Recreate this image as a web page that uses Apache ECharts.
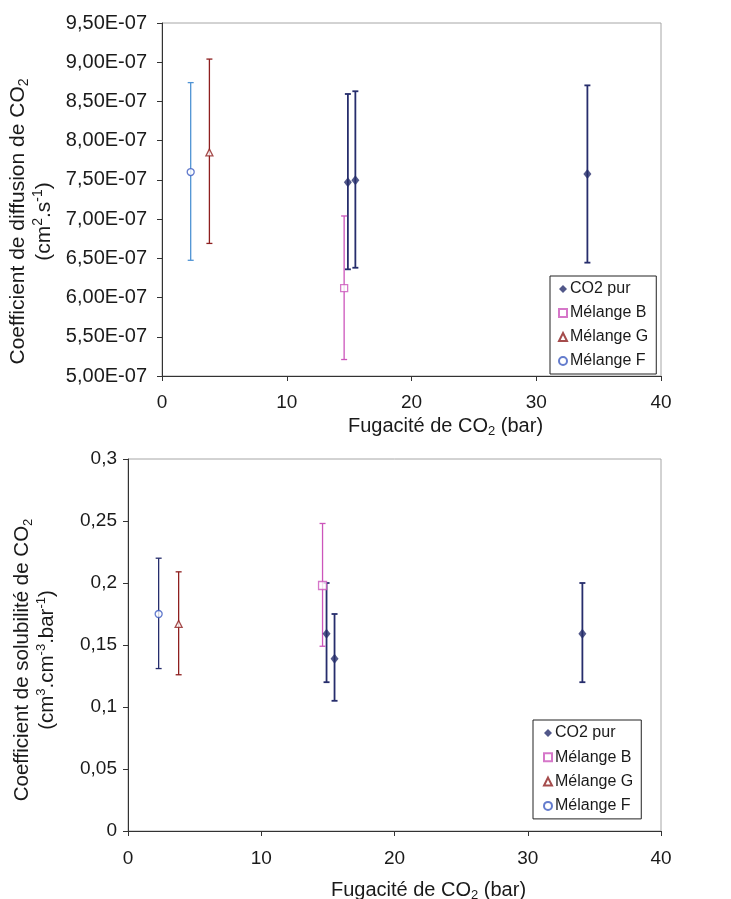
<!DOCTYPE html>
<html>
<head>
<meta charset="utf-8">
<script src="https://cdn.jsdelivr.net/npm/echarts@6/dist/echarts.min.js"></script>
<style>html,body{margin:0;padding:0;background:#fff}#c{width:731px;height:899px}</style>
</head>
<body>
<div id="c"></div>
<script>
// ---- data ----
const seriesNames = ['CO2 pur', 'Mélange B', 'Mélange G', 'Mélange F'];
// Fugacity (bar)
const xCO2 = [14.9, 15.5, 34.1];
const xB = [14.6];
const xG = [3.8];
const xF = [2.3];
// Diffusion coefficient (cm2/s)
const dCO2 = [7.47e-7, 7.495e-7, 7.575e-7];
const dCO2Lo = [6.36e-7, 6.38e-7, 6.445e-7];
const dCO2Hi = [8.595e-7, 8.63e-7, 8.705e-7];
const dB = [6.12e-7], dBLo = [5.21e-7], dBHi = [7.04e-7];
const dG = [7.85e-7], dGLo = [6.69e-7], dGHi = [9.04e-7];
const dF = [7.60e-7], dFLo = [6.475e-7], dFHi = [8.74e-7];
// Solubility coefficient
const sCO2 = [0.159, 0.139, 0.159];
const sCO2Lo = [0.12, 0.105, 0.12];
const sCO2Hi = [0.20, 0.175, 0.20];
const sB = [0.198], sBLo = [0.149], sBHi = [0.248];
const sG = [0.167], sGLo = [0.126], sGHi = [0.209];
const sF = [0.175], sFLo = [0.131], sFHi = [0.22];

// ---- styles ----
const FONT = 'Liberation Sans, Arial, sans-serif';
const NAVY = '#262D6C', MAG = '#CC55BB', RED = '#8E1F1F', BLUE = '#3D5BC0', LBLUE = '#4F93D4';

function makeRich(fs) {
  const s = Math.round(fs * 0.65);
  return {
    t: {fontSize: fs, fontFamily: FONT, color: '#1a1a1a', lineHeight: Math.round(fs * 1.22)},
    sub: {fontSize: s, fontFamily: FONT, color: '#1a1a1a', lineHeight: s + 4, verticalAlign: 'bottom'},
    sup: {fontSize: s, fontFamily: FONT, color: '#1a1a1a', lineHeight: s + 4, verticalAlign: 'top'}
  };
}

function pts(xs, ys) { return xs.map((x, i) => [x, ys[i]]); }
function bars(xs, lo, hi) { return xs.map((x, i) => [x, lo[i], hi[i]]); }

function errSeries(name, idx, data, color, lw) {
  return {
    name: name, type: 'custom', xAxisIndex: idx, yAxisIndex: idx, z: 1,
    encode: {x: 0, y: [1, 2]}, data: data, silent: true,
    renderItem: function (params, api) {
      const x = api.value(0), lo = api.value(1), hi = api.value(2);
      const p1 = api.coord([x, lo]), p2 = api.coord([x, hi]);
      const w = 3;
      const st = {stroke: color, lineWidth: lw};
      return {type: 'group', children: [
        {type: 'line', shape: {x1: p1[0], y1: p1[1], x2: p2[0], y2: p2[1]}, style: st},
        {type: 'line', shape: {x1: p1[0] - w, y1: p1[1], x2: p1[0] + w, y2: p1[1]}, style: st},
        {type: 'line', shape: {x1: p2[0] - w, y1: p2[1], x2: p2[0] + w, y2: p2[1]}, style: st}
      ]};
    }
  };
}

function markerSeries(idx, name, data, symbol, color, size) {
  const open = symbol !== 'diamond';
  return {
    name: name, type: 'scatter', xAxisIndex: idx, yAxisIndex: idx, z: 3,
    symbol: symbol, symbolSize: size, data: data,
    itemStyle: open ? {color: '#fff', borderColor: color, borderWidth: 1.3} : {color: color},
    emphasis: {disabled: true}
  };
}

function xAxisDef(idx, gap, margin) {
  return {
    gridIndex: idx, type: 'value', min: 0, max: 40, interval: 10,
    name: '{t|Fugacité de CO}{sub|2}{t| (bar)}', nameLocation: 'middle', nameGap: gap,
    nameTextStyle: {rich: makeRich(20), padding: [0, 0, 0, 68]},
    axisLine: {show: true, onZero: false, lineStyle: {color: '#333', width: 1}},
    axisTick: {show: true, length: 5, lineStyle: {color: '#333'}},
    axisLabel: {fontSize: 19, fontFamily: FONT, color: '#1a1a1a', margin: margin},
    splitLine: {show: false}
  };
}

const legendText = {fontSize: 16, fontFamily: FONT, color: '#1a1a1a', lineHeight: 20, padding: [0, 0, 0, -2]};

const option = {
  backgroundColor: '#fff',
  animation: false,
  grid: [
    {left: 162, top: 23, width: 499, height: 353, show: true, borderColor: '#a6a6a6', borderWidth: 1,
      containLabel: false, outerBoundsMode: 'none'},
    {left: 128, top: 459, width: 533, height: 372, show: true, borderColor: '#a6a6a6', borderWidth: 1,
      containLabel: false, outerBoundsMode: 'none'}
  ],
  xAxis: [xAxisDef(0, 38, 17), xAxisDef(1, 47, 18)],
  yAxis: [
    {
      gridIndex: 0, type: 'value', min: 5e-7, max: 9.5e-7, interval: 0.5e-7,
      name: '{t|Coefficient de diffusion de CO}{sub|2}\n{t|(cm}{sup|2}{t|.s}{sup|-1}{t|)}',
      nameLocation: 'middle', nameGap: 104,
      nameTextStyle: {rich: makeRich(21), align: 'center', padding: [0, 44, 0, 0]},
      axisLine: {show: true, lineStyle: {color: '#333', width: 1}},
      axisTick: {show: true, length: 5, lineStyle: {color: '#333'}},
      axisLabel: {fontSize: 20, fontFamily: FONT, color: '#1a1a1a', margin: 15,
        formatter: v => (Math.round(v * 1e9) / 100).toFixed(2).replace('.', ',') + 'E-07'},
      splitLine: {show: false}
    },
    {
      gridIndex: 1, type: 'value', min: 0, max: 0.3, interval: 0.05,
      name: '{t|Coefficient de solubilité de CO}{sub|2}\n{t|(cm}{sup|3}{t|.cm}{sup|-3}{t|.bar}{sup|-1}{t|)}',
      nameLocation: 'middle', nameGap: 68,
      nameTextStyle: {rich: makeRich(20.5), align: 'center', padding: [0, 30, 0, 0]},
      axisLine: {show: true, lineStyle: {color: '#333', width: 1}},
      axisTick: {show: true, length: 5, lineStyle: {color: '#333'}},
      axisLabel: {fontSize: 19, fontFamily: FONT, color: '#1a1a1a', margin: 11,
        formatter: v => String(Math.round(v * 100) / 100).replace('.', ',')},
      splitLine: {show: false}
    }
  ],
  legend: [
    {
      data: seriesNames, orient: 'vertical', left: 550, top: 276, width: 107,
      backgroundColor: '#fff', borderColor: '#222', borderWidth: 1,
      padding: [3, 8, 3, 8], itemGap: 4, itemWidth: 8, itemHeight: 8,
      textStyle: legendText, selectedMode: false
    },
    {
      data: seriesNames, orient: 'vertical', left: 533, top: 720, width: 114,
      backgroundColor: '#fff', borderColor: '#222', borderWidth: 1,
      padding: [3, 8, 3, 10], itemGap: 4.3, itemWidth: 8, itemHeight: 8,
      textStyle: legendText, selectedMode: false
    }
  ],
  series: [
    markerSeries(0, 'CO2 pur', pts(xCO2, dCO2), 'diamond', NAVY, [8, 10]),
    markerSeries(0, 'Mélange B', pts(xB, dB), 'rect', MAG, 7),
    markerSeries(0, 'Mélange G', pts(xG, dG), 'triangle', RED, 7),
    markerSeries(0, 'Mélange F', pts(xF, dF), 'circle', BLUE, 7),
    errSeries('eb-d-CO2', 0, bars(xCO2, dCO2Lo, dCO2Hi), NAVY, 1.8),
    errSeries('eb-d-B', 0, bars(xB, dBLo, dBHi), MAG, 1.3),
    errSeries('eb-d-G', 0, bars(xG, dGLo, dGHi), RED, 1.3),
    errSeries('eb-d-F', 0, bars(xF, dFLo, dFHi), LBLUE, 1.3),
    markerSeries(1, 'CO2 pur', pts(xCO2, sCO2), 'diamond', NAVY, [8, 10]),
    markerSeries(1, 'Mélange B', pts(xB, sB), 'rect', MAG, 8),
    markerSeries(1, 'Mélange G', pts(xG, sG), 'triangle', RED, 7),
    markerSeries(1, 'Mélange F', pts(xF, sF), 'circle', BLUE, 7),
    errSeries('eb-s-CO2', 1, bars(xCO2, sCO2Lo, sCO2Hi), NAVY, 1.8),
    errSeries('eb-s-B', 1, bars(xB, sBLo, sBHi), MAG, 1.3),
    errSeries('eb-s-G', 1, bars(xG, sGLo, sGHi), RED, 1.3),
    errSeries('eb-s-F', 1, bars(xF, sFLo, sFHi), NAVY, 1.3)
  ]
};
const chart = echarts.init(document.getElementById('c'), null, {renderer: 'canvas'});
chart.setOption(option);
</script>
</body>
</html>
